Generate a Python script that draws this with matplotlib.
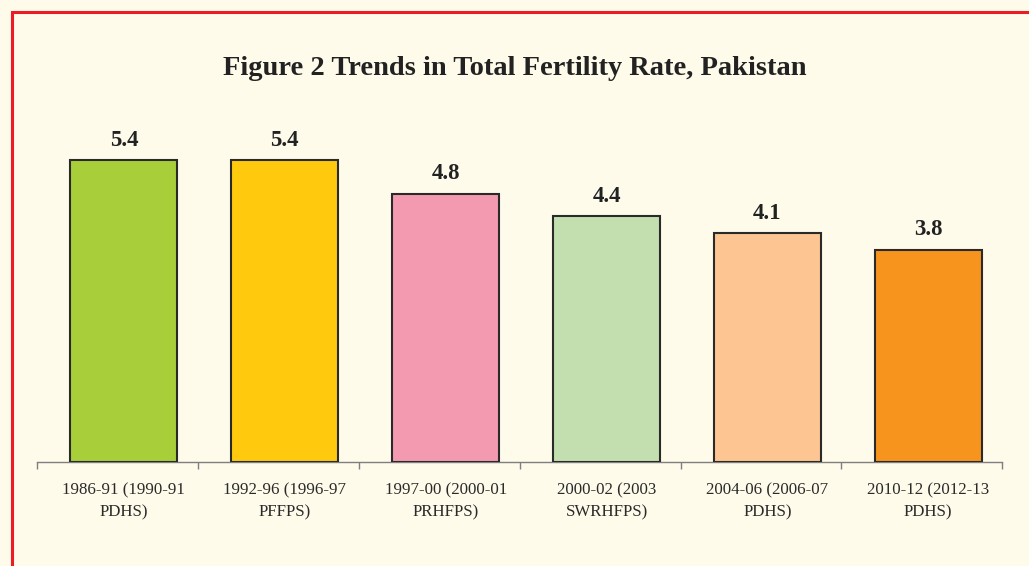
import numpy as np
import matplotlib.pyplot as plt
from matplotlib.patches import Rectangle

# data
categories = ["1986-91 (1990-91\nPDHS)", "1992-96 (1996-97\nPFFPS)",
              "1997-00 (2000-01\nPRHFPS)", "2000-02 (2003\nSWRHFPS)",
              "2004-06 (2006-07\nPDHS)", "2010-12 (2012-13\nPDHS)"]
tfr = [5.4, 5.4, 4.8, 4.4, 4.1, 3.8]
bar_colors = ["#A8CF3A", "#FFC90E", "#F49AB0", "#C3DFAF", "#FCC591", "#F7941E"]

bg = "#FEFBEA"
plt.rcParams['font.family'] = ['Liberation Serif', 'DejaVu Serif']

fig = plt.figure(figsize=(10.29, 5.66), dpi=100, facecolor=bg)
ax = fig.add_axes([0.036, 0.1837, 0.938, 0.592], facecolor=bg)

# bars sit a little right of the category centre in the original
x = np.arange(len(tfr)) + 0.04
bars = ax.bar(x, tfr, width=0.665, color=bar_colors, edgecolor="#2a2a2a", linewidth=1.5, zorder=3)
for b, v in zip(bars, tfr):
    ax.text(b.get_x() + b.get_width() / 2, v + 0.17, f"{v:.1f}", ha="center", va="bottom",
            fontsize=16.5, fontweight="bold", color="#222222")

ax.set_xlim(-0.5, len(tfr) - 0.5)
ax.set_ylim(0, 6)
ax.set_yticks([])
for s in ["left", "right", "top"]:
    ax.spines[s].set_visible(False)
ax.spines["bottom"].set_color("#7f7f7f")
ax.spines["bottom"].set_linewidth(1.0)

ax.set_xticks(x)
ax.set_xticklabels(categories, fontsize=12.2, color="#2a2a2a", linespacing=1.45)
ax.tick_params(axis="x", which="major", length=0, pad=15)
ax.set_xticks(np.arange(len(tfr) + 1) - 0.5, minor=True)
ax.tick_params(axis="x", which="minor", length=5, color="#7f7f7f", width=1.0, direction="out")

fig.text(0.5, 0.879, "Figure 2 Trends in Total Fertility Rate, Pakistan", ha="center", va="center",
         fontsize=20.5, fontweight="bold", color="#222222")

# red frame (right and bottom edges fall outside the image)
fig.patches.append(Rectangle((12 / 1029, -0.05), 1.2, 1 - 12 / 566 + 0.05, transform=fig.transFigure,
                             fill=False, edgecolor="#ED1C24", linewidth=2.2, zorder=10))

fig.savefig("out.png", dpi=100, facecolor=bg)
